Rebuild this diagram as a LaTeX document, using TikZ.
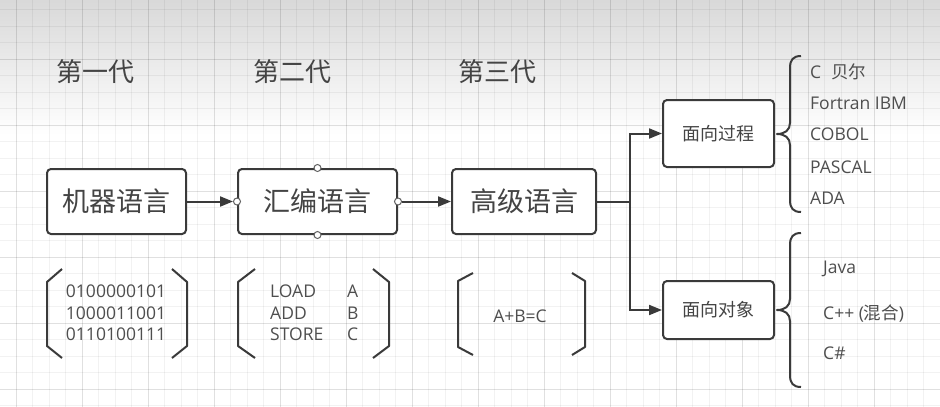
\documentclass[tikz,border=0pt]{standalone}
\usepackage{fontspec}
\setmainfont{Open Sans}
\newfontfamily\cjk{Noto Sans CJK SC}
\usetikzlibrary{arrows.meta}
\definecolor{ln}{HTML}{3A3A3A}
\definecolor{tx}{HTML}{444444}
\definecolor{lt}{HTML}{4E4E4E}
\begin{document}
\begin{tikzpicture}[x=1pt,y=-1pt,
  box/.style={draw=ln,line width=2pt,rounded corners=4pt,fill=white,text=tx,inner sep=0pt},
  big/.style={box,minimum height=65pt,font=\cjk\fontsize{27}{30}\selectfont},
  small/.style={box,minimum width=111pt,font=\cjk\fontsize{18}{22}\selectfont},
  head/.style={text=tx,font=\cjk\fontsize{26}{30}\selectfont},
  item/.style={text=lt,anchor=west,inner sep=0pt,font=\fontsize{17.5}{20}\selectfont},
  code/.style={text=lt,inner sep=0pt,align=left,font=\fontsize{17.5}{21.5}\selectfont},
  arr/.style={draw=ln,line width=2pt,-{Triangle[length=13pt,width=10pt]}},
  brk/.style={draw=ln,line width=2pt,line join=round},
  port/.style={circle,draw=ln!80,line width=1pt,fill=white,minimum size=7pt,inner sep=0pt}]
\useasboundingbox (0,0) rectangle (940,407);
\fill[white] (0,0) rectangle (940,407);
\shade[top color=black!15,bottom color=white] (0,0) rectangle (940,135);
% grid
\foreach \k in {-1,...,56} {\draw[black,opacity=0.05,line width=0.8pt] ({16+16.5*\k},0) -- ({16+16.5*\k},407);}
\foreach \k in {0,...,14} {\draw[black,opacity=0.07,line width=0.8pt] ({16+66*\k},0) -- ({16+66*\k},407);}
\foreach \k in {-4,...,21} {\draw[black,opacity=0.05,line width=0.8pt] (0,{59+16.5*\k}) -- (940,{59+16.5*\k});}
\foreach \k in {-1,...,5} {\draw[black,opacity=0.07,line width=0.8pt] (0,{59+66*\k}) -- (940,{59+66*\k});}
% headers
\node[head] (h1) at (95,72) {第一代};
\node[head] (h2) at (292,72) {第二代};
\node[head] (h3) at (497,72) {第三代};
% main boxes
\node[big,minimum width=139pt] (m) at (116.5,201.5) {机器语言};
\node[big,minimum width=159pt] (a) at (317.5,201.5) {汇编语言};
\node[big,minimum width=144pt] (g) at (524,201.5) {高级语言};
\node[small,minimum height=67pt] (p) at (718.5,133.5) {面向过程};
\node[small,minimum height=58pt] (o) at (718.5,310) {面向对象};
\coordinate (j) at (630,201.5);
% ports
\foreach \an in {north,south,east,west} {\node[port] (a-\an) at (a.\an) {};}
% connectors
\draw[arr] (m.east) -- (a-west);
\draw[arr] (a-east) -- (g.west);
\draw[draw=ln,line width=2pt] (g.east) -- (j);
\draw[arr] (j) |- (p.west);
\draw[arr] (j) |- (o.west);
% braces
\coordinate (b1) at (777,134);
\draw[brk] (801,56) .. controls (793,56) and (790,60) .. (790,68) -- (790,123) .. controls (790,130) and (785,134) .. (b1) .. controls (785,134) and (790,138) .. (790,145) -- (790,200) .. controls (790,208) and (793,212) .. (801,212);
\coordinate (b2) at (777,310);
\draw[brk] (801,233) .. controls (793,233) and (790,237) .. (790,245) -- (790,299) .. controls (790,306) and (785,310) .. (b2) .. controls (785,310) and (790,314) .. (790,321) -- (790,375) .. controls (790,383) and (793,387) .. (801,387);
% lists
\node[item] (l1) at (810,72) {C\hspace{10pt}{\cjk 贝尔}};
\node[item] (l2) at (810,103) {Fortran IBM};
\node[item] (l3) at (810,134) {COBOL};
\node[item] (l4) at (810,167) {PASCAL};
\node[item] (l5) at (810,198) {ADA};
\node[item] (r1) at (823,269) {Java};
\node[item] (r2) at (823,314) {C++ ({\cjk 混合})};
\node[item] (r3) at (823,353) {C\#};
% code brackets
\draw[brk] (62,269) -- (47,282) -- (47,346) -- (62,358);
\draw[brk] (172,269) -- (187,282) -- (187,346) -- (172,358);
\node[code] (c1) at (116,313) {0100000101\\1000011001\\0110100111};
\draw[brk] (255,269) -- (238,282) -- (238,346) -- (255,358);
\draw[brk] (373,269) -- (389,282) -- (389,346) -- (373,358);
\node[code,anchor=west] (c2) at (270,313) {LOAD\\ADD\\STORE};
\node[code,anchor=west] (c3) at (347,313) {A\\B\\C};
\draw[brk] (473,273) -- (458,281) -- (458,347) -- (473,355);
\draw[brk] (572,273) -- (585,281) -- (585,347) -- (572,355);
\node[code] (c4) at (520,316) {A+B=C};
\end{tikzpicture}
\end{document}
